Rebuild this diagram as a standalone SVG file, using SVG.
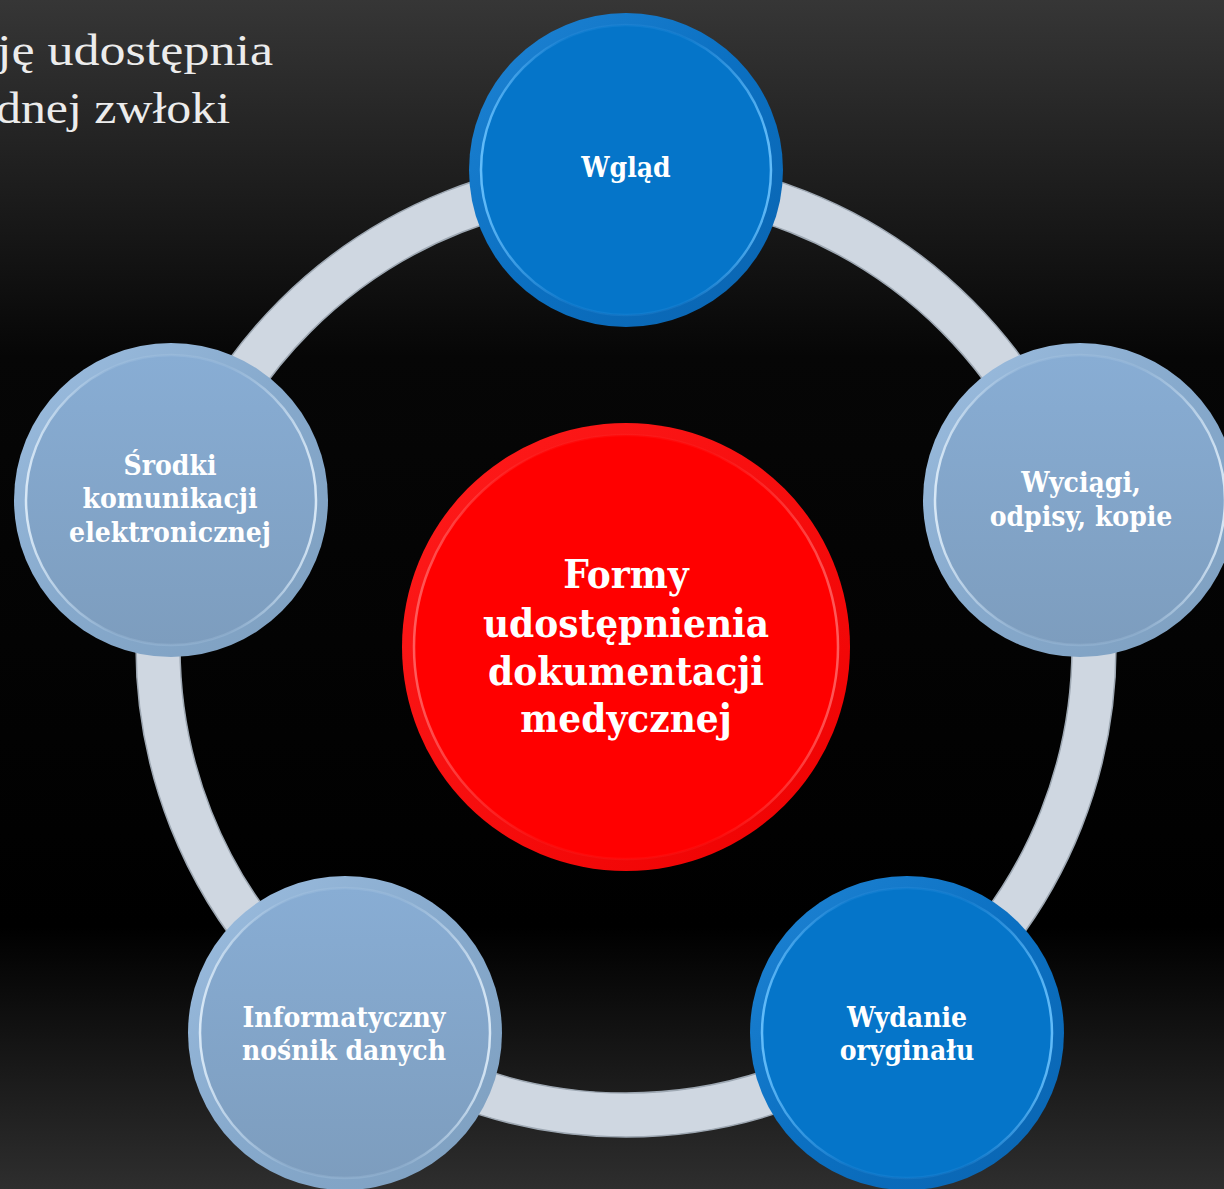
<svg xmlns="http://www.w3.org/2000/svg" width="1224" height="1189" viewBox="0 0 1224 1189">
<defs>
<linearGradient id="bg" x1="0" y1="0" x2="0" y2="1">
<stop offset="0" stop-color="#363636"/>
<stop offset="0.3" stop-color="#060606"/>
<stop offset="0.78" stop-color="#000"/>
<stop offset="1" stop-color="#2e2e2e"/>
</linearGradient>
<linearGradient id="blueRim" x1="0" y1="0" x2="1" y2="1">
<stop offset="0" stop-color="#1f84d4"/>
<stop offset="0.5" stop-color="#0b70c2"/>
<stop offset="1" stop-color="#0a64b0"/>
</linearGradient>
<linearGradient id="blueHi" x1="0" y1="0" x2="1" y2="0">
<stop offset="0" stop-color="#6cc4ff" stop-opacity="0.9"/>
<stop offset="0.3" stop-color="#3a9be8" stop-opacity="0.2"/>
<stop offset="0.7" stop-color="#3a9be8" stop-opacity="0.2"/>
<stop offset="1" stop-color="#6cc4ff" stop-opacity="0.9"/>
</linearGradient>
<linearGradient id="lightRim" x1="0" y1="0" x2="1" y2="1">
<stop offset="0" stop-color="#9dbee0"/>
<stop offset="0.5" stop-color="#86a9cc"/>
<stop offset="1" stop-color="#7e9fbf"/>
</linearGradient>
<linearGradient id="lightFill" x1="0" y1="0" x2="0" y2="1">
<stop offset="0" stop-color="#88add4"/>
<stop offset="1" stop-color="#7d9dbe"/>
</linearGradient>
<linearGradient id="lightHi" x1="0" y1="0" x2="1" y2="0">
<stop offset="0" stop-color="#e0eefa" stop-opacity="0.9"/>
<stop offset="0.3" stop-color="#b0cce6" stop-opacity="0.25"/>
<stop offset="0.7" stop-color="#b0cce6" stop-opacity="0.25"/>
<stop offset="1" stop-color="#e0eefa" stop-opacity="0.9"/>
</linearGradient>
<linearGradient id="redRim" x1="0" y1="0" x2="1" y2="1">
<stop offset="0" stop-color="#ff1c1c"/>
<stop offset="1" stop-color="#ee0000"/>
</linearGradient>
<linearGradient id="redHi" x1="0" y1="0" x2="1" y2="0">
<stop offset="0" stop-color="#ff7070" stop-opacity="0.8"/>
<stop offset="0.3" stop-color="#ff3030" stop-opacity="0.2"/>
<stop offset="0.7" stop-color="#ff3030" stop-opacity="0.2"/>
<stop offset="1" stop-color="#ff7070" stop-opacity="0.8"/>
</linearGradient>
</defs>
<style>
.lbl{font-family:"DejaVu Serif Condensed","DejaVu Serif","Liberation Serif",serif;font-stretch:condensed;font-weight:bold;fill:#fff;text-anchor:middle}
.s{font-size:28px}
.c{font-size:40px}
.head{font-family:"Liberation Serif",serif;font-size:44px;fill:#ececec}
.ringBand{fill:none;stroke:#cfd7e1;stroke-width:44}
.ringEdge{fill:none;stroke:#9ea8b3;stroke-width:1.5}
</style>
<rect width="1224" height="1189" fill="url(#bg)"/>
<g id="title">
<text class="head" x="-3" y="65" textLength="276" lengthAdjust="spacingAndGlyphs">ję udostępnia</text>
<text class="head" x="-4" y="123" textLength="234" lengthAdjust="spacingAndGlyphs">dnej zwłoki</text>
</g>
<g id="connectors">
<circle class="ringBand" cx="626" cy="647" r="468"/>
<circle class="ringEdge" cx="626" cy="647" r="490"/>
<circle class="ringEdge" cx="626" cy="647" r="446"/>
</g>
<g id="center">
<circle cx="626" cy="647" r="224" fill="url(#redRim)"/>
<circle cx="626" cy="647" r="212" fill="#ff0000" stroke="url(#redHi)" stroke-width="2.5"/>
<text class="lbl c" x="626" y="588">Formy</text>
<text class="lbl c" x="626" y="637">udostępnienia</text>
<text class="lbl c" x="626" y="685">dokumentacji</text>
<text class="lbl c" x="626" y="732">medycznej</text>
</g>
<g id="node-wglad">
<circle cx="626" cy="170" r="157" fill="url(#blueRim)"/>
<circle cx="626" cy="170" r="145" fill="#0575c9" stroke="url(#blueHi)" stroke-width="2.5"/>
<text class="lbl s" x="626" y="177">Wgląd</text>
</g>
<g id="node-wyciagi">
<circle cx="1080" cy="500" r="157" fill="url(#lightRim)"/>
<circle cx="1080" cy="500" r="145" fill="url(#lightFill)" stroke="url(#lightHi)" stroke-width="2.5"/>
<text class="lbl s" x="1081" y="492">Wyciągi,</text>
<text class="lbl s" x="1081" y="526">odpisy, kopie</text>
</g>
<g id="node-wydanie">
<circle cx="907" cy="1033" r="157" fill="url(#blueRim)"/>
<circle cx="907" cy="1033" r="145" fill="#0575c9" stroke="url(#blueHi)" stroke-width="2.5"/>
<text class="lbl s" x="907" y="1027">Wydanie</text>
<text class="lbl s" x="907" y="1060">oryginału</text>
</g>
<g id="node-informatyczny">
<circle cx="345" cy="1033" r="157" fill="url(#lightRim)"/>
<circle cx="345" cy="1033" r="145" fill="url(#lightFill)" stroke="url(#lightHi)" stroke-width="2.5"/>
<text class="lbl s" x="344" y="1027">Informatyczny</text>
<text class="lbl s" x="344" y="1060">nośnik danych</text>
</g>
<g id="node-srodki">
<circle cx="171" cy="500" r="157" fill="url(#lightRim)"/>
<circle cx="171" cy="500" r="145" fill="url(#lightFill)" stroke="url(#lightHi)" stroke-width="2.5"/>
<text class="lbl s" x="170" y="475">Środki</text>
<text class="lbl s" x="170" y="508">komunikacji</text>
<text class="lbl s" x="170" y="542">elektronicznej</text>
</g>
</svg>
